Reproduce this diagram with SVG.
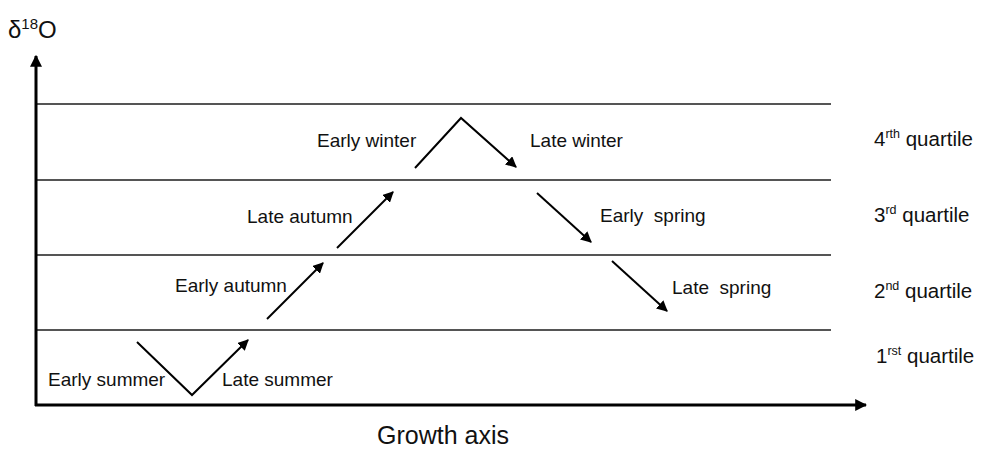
<svg xmlns="http://www.w3.org/2000/svg" width="982" height="451" viewBox="0 0 982 451">
<style>
  text { font-family: "Liberation Sans", Arial, sans-serif; fill: #111; }
  .lbl { font-size: 19px; }
  .q { font-size: 20.5px; }
  .sup { font-size: 12.5px; }
  .grid { stroke: #555; stroke-width: 2; fill: none; }
  .axis { stroke: #000; stroke-width: 3; fill: none; }
  .arr { stroke: #000; stroke-width: 2; fill: none; }
</style>
<defs>
  <marker id="ah" viewBox="0 0 10 10" refX="9" refY="5" markerWidth="5.5" markerHeight="5.5" orient="auto" markerUnits="strokeWidth">
    <path d="M0,0 L10,5 L0,10 Z" fill="#000"/>
  </marker>
  <marker id="axh" viewBox="0 0 10 10" refX="9" refY="5" markerWidth="4" markerHeight="4" orient="auto" markerUnits="strokeWidth">
    <path d="M0,0 L10,5 L0,10 Z" fill="#000"/>
  </marker>
</defs>
<rect width="982" height="451" fill="#fff"/>
<g id="grid">
  <line class="grid" x1="36" y1="104" x2="831" y2="104"/>
  <line class="grid" x1="36" y1="180" x2="831" y2="180"/>
  <line class="grid" x1="36" y1="255" x2="831" y2="255"/>
  <line class="grid" x1="36" y1="330" x2="831" y2="330"/>
</g>
<g id="axes">
  <line class="axis" x1="36" y1="406" x2="36" y2="56" marker-end="url(#axh)"/>
  <line class="axis" x1="35" y1="405" x2="866" y2="405" marker-end="url(#axh)"/>
  <text x="8" y="38" style="font-size:24px">δ<tspan dy="-9" style="font-size:15px">18</tspan><tspan dy="9">O</tspan></text>
  <text x="443" y="444" text-anchor="middle" style="font-size:25px">Growth axis</text>
</g>
<g id="connectors">
  <polyline class="arr" points="137,342 192,395 248,340" marker-end="url(#ah)"/>
  <line class="arr" x1="267" y1="319" x2="323" y2="263" marker-end="url(#ah)"/>
  <line class="arr" x1="337" y1="248" x2="393" y2="192" marker-end="url(#ah)"/>
  <polyline class="arr" points="415,168 461,118 516,167" marker-end="url(#ah)"/>
  <line class="arr" x1="537" y1="193" x2="591" y2="242" marker-end="url(#ah)"/>
  <line class="arr" x1="612" y1="261" x2="667" y2="311" marker-end="url(#ah)"/>
</g>
<g id="seasons">
  <g id="early-summer"><text class="lbl" x="48" y="386">Early summer</text></g>
  <g id="late-summer"><text class="lbl" x="222" y="386">Late summer</text></g>
  <g id="early-autumn"><text class="lbl" x="175" y="292">Early autumn</text></g>
  <g id="late-autumn"><text class="lbl" x="247" y="223">Late autumn</text></g>
  <g id="early-winter"><text class="lbl" x="317" y="147">Early winter</text></g>
  <g id="late-winter"><text class="lbl" x="530" y="147">Late winter</text></g>
  <g id="early-spring"><text class="lbl" x="600" y="222" xml:space="preserve">Early  spring</text></g>
  <g id="late-spring"><text class="lbl" x="672" y="294" xml:space="preserve">Late  spring</text></g>
</g>
<g id="quartiles">
  <g id="q4"><text class="q" x="874" y="146">4<tspan class="sup" dy="-8">rth</tspan><tspan dy="8"> quartile</tspan></text></g>
  <g id="q3"><text class="q" x="874" y="222">3<tspan class="sup" dy="-8">rd</tspan><tspan dy="8"> quartile</tspan></text></g>
  <g id="q2"><text class="q" x="874" y="298">2<tspan class="sup" dy="-8">nd</tspan><tspan dy="8"> quartile</tspan></text></g>
  <g id="q1"><text class="q" x="876" y="363">1<tspan class="sup" dy="-8">rst</tspan><tspan dy="8"> quartile</tspan></text></g>
</g>
</svg>
